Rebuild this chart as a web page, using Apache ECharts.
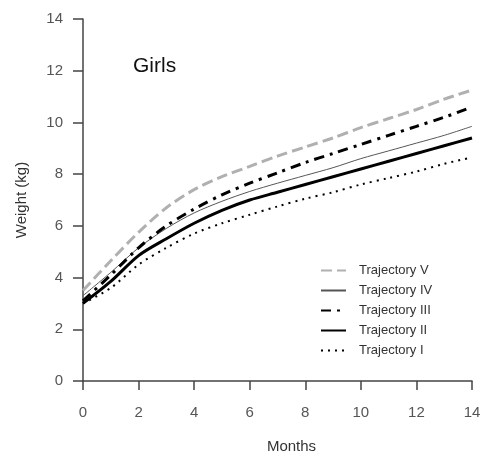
<!DOCTYPE html>
<html>
<head>
<meta charset="utf-8">
<script src="https://cdn.jsdelivr.net/npm/echarts@6/dist/echarts.min.js"></script>
<style>
  html, body { margin: 0; padding: 0; background: #fff; }
</style>
</head>
<body>
<div id="myChart" style="width: 481px; height: 454px;"></div>
<script>
    // months on the x axis
    var months = [0, 1, 2, 3, 4, 5, 6, 7, 8, 9, 10, 11, 12, 13, 14]

    // weight (kg) per trajectory
    var trajV   = [3.5, 4.65, 5.75, 6.7, 7.4, 7.9, 8.3, 8.7, 9.05, 9.4, 9.8, 10.15, 10.5, 10.9, 11.25]
    var trajIV  = [3.3, 4.2, 5.15, 5.9, 6.5, 6.95, 7.33, 7.65, 7.95, 8.25, 8.6, 8.9, 9.2, 9.5, 9.85]
    var trajIII = [3.1, 4.1, 5.15, 6.0, 6.65, 7.2, 7.65, 8.05, 8.45, 8.8, 9.15, 9.5, 9.85, 10.2, 10.6]
    var trajII  = [3.0, 3.85, 4.85, 5.5, 6.1, 6.6, 7.0, 7.3, 7.6, 7.9, 8.2, 8.5, 8.8, 9.1, 9.4]
    var trajI   = [3.0, 3.6, 4.5, 5.15, 5.7, 6.1, 6.43, 6.75, 7.05, 7.3, 7.6, 7.85, 8.1, 8.4, 8.65]

    var seriesNames = ['Trajectory V', 'Trajectory IV', 'Trajectory III', 'Trajectory II', 'Trajectory I']

    function pairs(values) {
        return months.map(function (m, i) { return [m, values[i]] })
    }

    var chart = echarts.init(document.getElementById('myChart'))

    chart.setOption({
        animation: false,
        title: {
            text: 'Girls',
            left: 128,
            top: 51,
            textStyle: {
                fontFamily: 'Liberation Sans',
                fontSize: 21,
                fontWeight: 'normal',
                color: '#111'
            }
        },
        legend: {
            orient: 'vertical',
            left: 315,
            top: 259,
            itemWidth: 25,
            itemHeight: 12,
            itemGap: 7,
            data: seriesNames,
            itemStyle: { opacity: 0 },
            textStyle: {
                fontFamily: 'Liberation Sans',
                fontSize: 13,
                color: '#333',
                padding: [0, 0, 0, 8]
            }
        },
        grid: {
            left: 83,
            right: 9,
            top: 19,
            bottom: 73,
            containLabel: false,
            outerBoundsMode: 'none'
        },
        xAxis: {
            type: 'value',
            min: 0,
            max: 14,
            interval: 2,
            name: 'Months',
            nameLocation: 'middle',
            nameGap: 58,
            nameTextStyle: {
                fontFamily: 'Liberation Sans',
                fontSize: 15,
                color: '#333',
                padding: [0, 0, 0, 28]
            },
            axisLine: { lineStyle: { color: '#444', width: 1.5 } },
            axisTick: { show: true, length: 9, lineStyle: { color: '#444', width: 1.5 } },
            axisLabel: {
                margin: 24,
                fontFamily: 'Liberation Sans',
                fontSize: 15,
                color: '#555'
            },
            splitLine: { show: false }
        },
        yAxis: {
            type: 'value',
            min: 0,
            max: 14,
            interval: 2,
            name: 'Weight (kg)',
            nameLocation: 'middle',
            nameGap: 54,
            nameTextStyle: {
                fontFamily: 'Liberation Sans',
                fontSize: 15,
                color: '#333'
            },
            axisLine: { show: true, lineStyle: { color: '#444', width: 1.5 } },
            axisTick: { show: true, length: 10, lineStyle: { color: '#444', width: 1.5 } },
            axisLabel: {
                margin: 20,
                fontFamily: 'Liberation Sans',
                fontSize: 15,
                color: '#555'
            },
            splitLine: { show: false }
        },
        series: [
            {
                name: 'Trajectory V',
                type: 'line',
                smooth: 0.3,
                symbol: 'none',
                z: 2,
                color: '#aaaaaa',
                lineStyle: { color: '#b0b0b0', width: 3, type: [11, 5] },
                data: pairs(trajV)
            },
            {
                name: 'Trajectory IV',
                type: 'line',
                smooth: 0.3,
                symbol: 'none',
                z: 3,
                color: '#555555',
                lineStyle: { color: '#555555', width: 1 },
                data: pairs(trajIV)
            },
            {
                name: 'Trajectory III',
                type: 'line',
                smooth: 0.3,
                symbol: 'none',
                z: 4,
                color: '#000000',
                lineStyle: { color: '#000000', width: 3, type: [10, 6, 3, 6] },
                data: pairs(trajIII)
            },
            {
                name: 'Trajectory II',
                type: 'line',
                smooth: 0.3,
                symbol: 'none',
                z: 5,
                color: '#000000',
                lineStyle: { color: '#000000', width: 3 },
                data: pairs(trajII)
            },
            {
                name: 'Trajectory I',
                type: 'line',
                smooth: 0.3,
                symbol: 'none',
                z: 4,
                color: '#000000',
                lineStyle: { color: '#000000', width: 2, type: [2, 5] },
                data: pairs(trajI)
            }
        ]
    })
</script>
</body>
</html>
